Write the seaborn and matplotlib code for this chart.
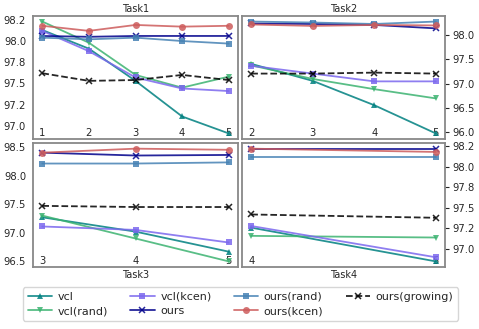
import matplotlib
matplotlib.use("Agg")
import matplotlib.pyplot as plt
from matplotlib.ticker import MultipleLocator, FormatStrFormatter
import seaborn as sns

#---------------------------------------------------------------------------------------------------------
# data (accuracy in % after each task)
#---------------------------------------------------------------------------------------------------------
methods = ["vcl", "vcl(rand)", "vcl(kcen)", "ours", "ours(rand)", "ours(kcen)", "ours(growing)"]

task1_steps = [1, 2, 3, 4, 5]
task1_acc = [
    [98.13, 97.91, 97.53, 97.11, 96.91],
    [98.23, 97.98, 97.60, 97.45, 97.58],
    [98.12, 97.88, 97.57, 97.44, 97.41],
    [98.06, 98.05, 98.06, 98.06, 98.06],
    [98.04, 98.02, 98.04, 98.00, 97.97],
    [98.18, 98.12, 98.19, 98.17, 98.18],
    [97.62, 97.53, 97.54, 97.60, 97.54],
]

task2_steps = [2, 3, 4, 5]
task2_acc = [
    [97.41, 97.06, 96.56, 95.98],
    [97.38, 97.10, 96.89, 96.70],
    [97.37, 97.21, 97.05, 97.05],
    [98.24, 98.23, 98.21, 98.14],
    [98.28, 98.26, 98.23, 98.28],
    [98.22, 98.19, 98.21, 98.20],
    [97.21, 97.21, 97.23, 97.21],
]

task3_steps = [3, 4, 5]
task3_acc = [
    [97.27, 97.02, 96.67],
    [97.30, 96.90, 96.50],
    [97.11, 97.05, 96.83],
    [98.40, 98.35, 98.36],
    [98.21, 98.21, 98.23],
    [98.40, 98.47, 98.45],
    [97.47, 97.45, 97.45],
]

task4_steps = [4, 5]
task4_acc = [
    [97.26, 96.85],
    [97.16, 97.14],
    [97.28, 96.90],
    [98.21, 98.21],
    [98.12, 98.12],
    [98.22, 98.18],
    [97.42, 97.38],
]

#---------------------------------------------------------------------------------------------------------
# styles
#---------------------------------------------------------------------------------------------------------
colors = ["#008080", "#3cb371", "#7b68ee", "#00008b", "#4682b4", "#cd5c5c", "black"]
markers = ["^", "v", "s", "x", "s", "o", "x"]
linestyles = ["-", "-", "-", "-", "-", "-", "--"]


def drawPanel(ax, steps, acc, step, right):
    for i, name in enumerate(methods):
        isx = markers[i] == "x"
        sns.lineplot(x=steps, y=acc[i], ax=ax, color=colors[i], marker=markers[i],
                     linestyle=linestyles[i], markersize=4.5 if isx else 5,
                     linewidth=1.3, alpha=0.85, markeredgewidth=1.1 if isx else 0,
                     markeredgecolor=colors[i], label=name, legend=False)
    ax.set_xticks(steps)
    ax.yaxis.set_major_locator(MultipleLocator(step))
    ax.yaxis.set_major_formatter(FormatStrFormatter("%.1f"))
    ax.tick_params(axis="x", direction="in", pad=-8, length=3, labelsize=7.2)
    ax.tick_params(axis="y", direction="out", length=3, labelsize=7.2, pad=2)
    if right:
        ax.yaxis.tick_right()
    for sp in ax.spines.values():
        sp.set_visible(True)
        sp.set_color("#888888")
        sp.set_linewidth(1.3)


def main():
    sns.set_style("white")
    plt.rcParams["font.family"] = ["DejaVu Sans"]
    fig = plt.figure(figsize=(4.79, 3.29), dpi=100)

    ax1 = fig.add_axes([0.0689, 0.5775, 0.428, 0.374])
    ax2 = fig.add_axes([0.5052, 0.5775, 0.4238, 0.374])
    ax3 = fig.add_axes([0.0689, 0.1884, 0.428, 0.3769])
    ax4 = fig.add_axes([0.5052, 0.1884, 0.4238, 0.3769])

    drawPanel(ax1, task1_steps, task1_acc, 0.25, False)
    drawPanel(ax2, task2_steps, task2_acc, 0.5, True)
    drawPanel(ax3, task3_steps, task3_acc, 0.5, False)
    drawPanel(ax4, task4_steps, task4_acc, 0.25, True)

    ax1.set_title("Task1", fontsize=7, pad=3)
    ax2.set_title("Task2", fontsize=7, pad=3)
    ax3.set_xlabel("Task3", fontsize=7, labelpad=2)
    ax4.set_xlabel("Task4", fontsize=7, labelpad=2)

    handles, labels = ax1.get_legend_handles_labels()
    fig.legend(handles, labels, loc="center", bbox_to_anchor=(0.502, 0.076), ncol=4,
               fontsize=8, handlelength=2.2, handletextpad=0.5, columnspacing=2.0,
               labelspacing=0.4, frameon=True, edgecolor="0.8")

    fig.savefig("out.png", dpi=100)


if __name__ == "__main__":
    main()
